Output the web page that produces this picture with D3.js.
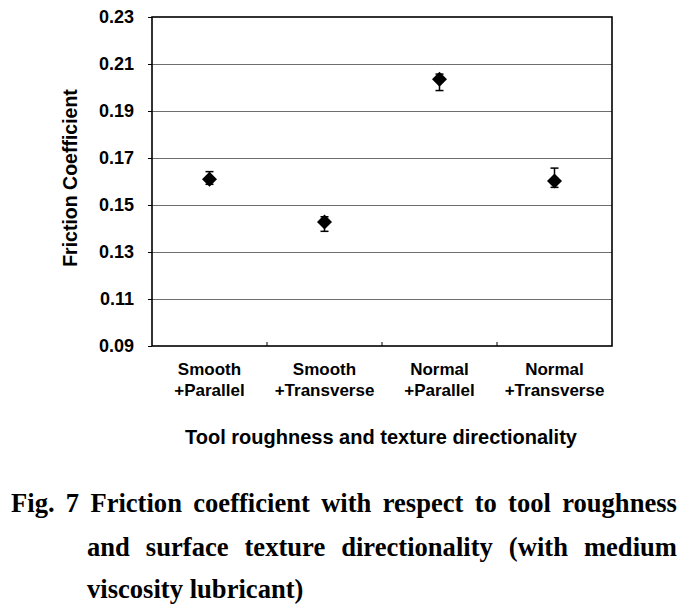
<!DOCTYPE html>
<html><head><meta charset="utf-8">
<script src="https://cdn.jsdelivr.net/npm/d3@7"></script>
<style>body{margin:0;background:#fff}svg{display:block}</style>
</head><body>
<svg id="c" width="693" height="605"></svg>
<script>
const categories = [["Smooth","+Parallel"],["Smooth","+Transverse"],["Normal","+Parallel"],["Normal","+Transverse"]];
const means = [0.161, 0.1428, 0.2035, 0.1602];
const errUp = [0.0032, 0.0022, 0.0022, 0.0055];
const errDn = [0.0022, 0.004, 0.0048, 0.0027];
const yTicks = [0.09,0.11,0.13,0.15,0.17,0.19,0.21,0.23];
const yTitle = "Friction Coefficient";
const xTitle = "Tool roughness and texture directionality";
const captionLines = ["Fig. 7 Friction coefficient with respect to tool roughness",
  "and surface texture directionality (with medium",
  "viscosity lubricant)"];

const svg = d3.select("#c");
const L=152,R=612,T=17,B=346;
const x = d3.scaleBand().domain(d3.range(categories.length)).range([L,R]);
const y = d3.scaleLinear().domain([0.09,0.23]).range([B,T]);
const sans = "Liberation Sans, Arial, sans-serif";

// gridlines
svg.append("g").selectAll("line").data(yTicks.filter(d=>d>0.09&&d<0.23)).join("line")
  .attr("x1",L).attr("x2",R).attr("y1",d=>Math.round(y(d))+0.5).attr("y2",d=>Math.round(y(d))+0.5)
  .attr("stroke","#6e6e6e").attr("stroke-width",1);

// y axis
const ya = svg.append("g").attr("transform",`translate(${L},0)`)
  .call(d3.axisLeft(y).tickValues(yTicks).tickFormat(d3.format(".2f")).tickSize(4).tickPadding(14));
ya.select(".domain").remove();
ya.selectAll("line").attr("stroke","#000");
ya.selectAll("text").attr("font-family",sans).attr("font-weight","bold").attr("font-size",18).attr("fill","#000");

// x ticks (inside, at boundaries)
svg.append("g").selectAll("line").data(d3.range(1,categories.length)).join("line")
  .attr("x1",d=>x(d)).attr("x2",d=>x(d)).attr("y1",B).attr("y2",B-4).attr("stroke","#000");

// frame
svg.append("rect").attr("x",L).attr("y",T).attr("width",R-L).attr("height",B-T)
  .attr("fill","none").attr("stroke","#000").attr("stroke-width",1.6);

// category labels
const cl = svg.append("g").selectAll("text").data(categories).join("text")
  .attr("x",(d,i)=>x(i)+x.bandwidth()/2).attr("y",375)
  .attr("text-anchor","middle").attr("font-family",sans).attr("font-weight","bold").attr("font-size",17);
cl.append("tspan").text(d=>d[0]).attr("x",(d,i)=>x(i)+x.bandwidth()/2);
cl.append("tspan").text(d=>d[1]).attr("x",(d,i)=>x(i)+x.bandwidth()/2).attr("dy",21);

// axis titles
svg.append("text").attr("x",381).attr("y",444).attr("text-anchor","middle")
  .attr("font-family",sans).attr("font-weight","bold").attr("font-size",20).text(xTitle);
svg.append("text").attr("transform",`translate(77,178) rotate(-90)`).attr("text-anchor","middle")
  .attr("font-family",sans).attr("font-weight","bold").attr("font-size",19.5).text(yTitle);

// error bars and markers
const g = svg.append("g");
means.forEach((m,i)=>{
  const cx = x(i)+x.bandwidth()/2;
  const y1 = y(m+errUp[i]), y2 = y(m-errDn[i]);
  g.append("line").attr("x1",cx).attr("x2",cx).attr("y1",y1).attr("y2",y2).attr("stroke","#000").attr("stroke-width",1.5);
  [y1,y2].forEach(yy=>g.append("line").attr("x1",cx-4).attr("x2",cx+4).attr("y1",yy).attr("y2",yy).attr("stroke","#000").attr("stroke-width",1.5));
  const cy = y(m);
  g.append("path").attr("d",`M${cx},${cy-7.5}L${cx+7.5},${cy}L${cx},${cy+7.5}L${cx-7.5},${cy}Z`).attr("fill","#000");
});

// caption
const serif = "Liberation Serif, Times New Roman, serif";
const FS = 28, SX = 0.95;
function captionLine(text, x0, x1, yb, justify){
  const words = text.split(" ");
  const tg = svg.append("g");
  const nodes = words.map(w=>tg.append("text").attr("y",yb).attr("font-family",serif).attr("font-weight","bold").attr("font-size",FS).text(w));
  const widths = nodes.map(n=>n.node().getComputedTextLength());
  const total = d3.sum(widths);
  const minGap = FS*0.25*SX;
  let s = SX, gap = minGap;
  if (justify) {
    s = Math.min(SX, (x1-x0-minGap*(words.length-1))/total);
    gap = (x1-x0-total*s)/(words.length-1);
  }
  let cx = 0;
  nodes.forEach((n,i)=>{ n.attr("x",cx); cx += widths[i] + gap/s; });
  tg.attr("transform",`translate(${x0},0) scale(${s},1)`);
}
captionLine(captionLines[0], 11, 677, 512, true);
captionLine(captionLines[1], 87, 677, 556, true);
captionLine(captionLines[2], 87, 677, 598, false);
</script>
</body></html>
